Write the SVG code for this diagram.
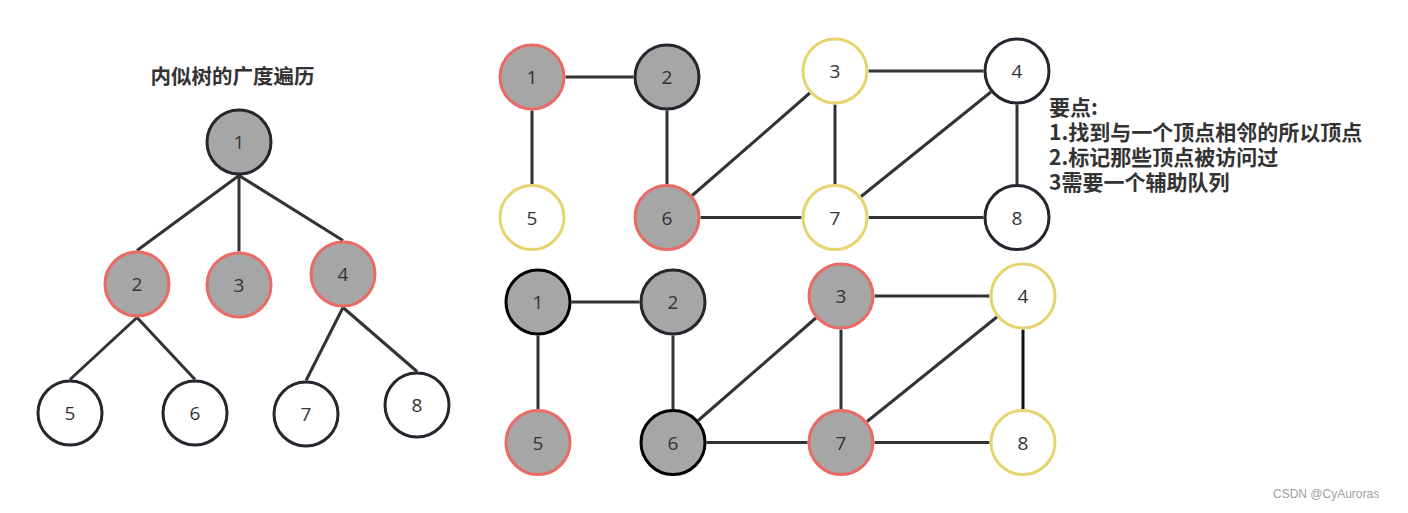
<svg xmlns="http://www.w3.org/2000/svg" width="1408" height="513" viewBox="0 0 1408 513">
  <style>
    .n { stroke-width: 3; }
    .g { fill: #a6a6a6; }
    .w { fill: #ffffff; }
    .red { stroke: #ea6b66; }
    .yel { stroke: #e6d46f; }
    .dk { stroke: #23282e; }
    .blk { stroke: #000000; }
    .lbl { font-family: "Open Sans", "Noto Sans", "DejaVu Sans", sans-serif; font-size: 19px; fill: #333333; text-anchor: middle; }
    .e { stroke: #333333; stroke-width: 3; fill: none; }
    .cjk { font-family: "Noto Sans CJK SC", "Noto Sans", sans-serif; font-weight: bold; fill: #333333; }
    .wm { font-family: "Liberation Sans", Arial, sans-serif; font-size: 12px; fill: #a0a0a0; }
  </style>
  <rect x="0" y="0" width="1408" height="513" fill="#ffffff"/>

  <!-- Tree title -->
  <text class="cjk" x="232.5" y="84" font-size="20.5" text-anchor="middle">内似树的广度遍历</text>

  <!-- Tree connectors -->
  <g id="tree-connectors">
    <line class="e" x1="239" y1="175.5" x2="137" y2="250.5"/>
    <line class="e" x1="239" y1="175.5" x2="239" y2="251.5"/>
    <line class="e" x1="239" y1="175.5" x2="343" y2="240.5"/>
    <line class="e" x1="137" y1="317.5" x2="70" y2="379.5"/>
    <line class="e" x1="137" y1="317.5" x2="195" y2="379.5"/>
    <line class="e" x1="343" y1="307.5" x2="306" y2="380.5"/>
    <line class="e" x1="343" y1="307.5" x2="417" y2="371.5"/>
  </g>

  <!-- Tree nodes -->
  <g id="t1"><circle class="n g dk" cx="239" cy="142" r="32"/><text class="lbl" x="239" y="149">1</text></g>
  <g id="t2"><circle class="n g red" cx="137" cy="284" r="32"/><text class="lbl" x="137" y="291">2</text></g>
  <g id="t3"><circle class="n g red" cx="239" cy="285" r="32"/><text class="lbl" x="239" y="292">3</text></g>
  <g id="t4"><circle class="n g red" cx="343" cy="274" r="32"/><text class="lbl" x="343" y="281">4</text></g>
  <g id="t5"><circle class="n w dk" cx="70" cy="413" r="32"/><text class="lbl" x="70" y="420">5</text></g>
  <g id="t6"><circle class="n w dk" cx="195" cy="413" r="32"/><text class="lbl" x="195" y="420">6</text></g>
  <g id="t7"><circle class="n w dk" cx="306" cy="414" r="32"/><text class="lbl" x="306" y="421">7</text></g>
  <g id="t8"><circle class="n w dk" cx="417" cy="405" r="32"/><text class="lbl" x="417" y="412">8</text></g>

  <!-- Top graph connectors -->
  <g id="graph1-connectors">
    <line class="e" x1="565.5" y1="77" x2="633.5" y2="77"/>
    <line class="e" x1="532" y1="110.5" x2="532" y2="184"/>
    <line class="e" x1="667" y1="110.5" x2="667" y2="184"/>
    <line class="e" x1="868.5" y1="71" x2="983.5" y2="71"/>
    <line class="e" x1="835" y1="104.5" x2="835" y2="184"/>
    <line class="e" x1="1017" y1="104.5" x2="1017" y2="184"/>
    <line class="e" x1="700.5" y1="217.5" x2="801.5" y2="217.5"/>
    <line class="e" x1="868.5" y1="217.5" x2="983.5" y2="217.5"/>
    <line class="e" x1="692.2" y1="195.5" x2="809.8" y2="93"/>
    <line class="e" x1="861.1" y1="196.5" x2="990.9" y2="92"/>
  </g>

  <!-- Top graph nodes -->
  <g id="a1"><circle class="n g red" cx="532" cy="77" r="32"/><text class="lbl" x="532" y="84">1</text></g>
  <g id="a2"><circle class="n g dk" cx="667" cy="77" r="32"/><text class="lbl" x="667" y="84">2</text></g>
  <g id="a3"><circle class="n w yel" cx="835" cy="71" r="32"/><text class="lbl" x="835" y="78">3</text></g>
  <g id="a4"><circle class="n w dk" cx="1017" cy="71" r="32"/><text class="lbl" x="1017" y="78">4</text></g>
  <g id="a5"><circle class="n w yel" cx="532" cy="217.5" r="32"/><text class="lbl" x="532" y="224.5">5</text></g>
  <g id="a6"><circle class="n g red" cx="667" cy="217.5" r="32"/><text class="lbl" x="667" y="224.5">6</text></g>
  <g id="a7"><circle class="n w yel" cx="835" cy="217.5" r="32"/><text class="lbl" x="835" y="224.5">7</text></g>
  <g id="a8"><circle class="n w dk" cx="1017" cy="217.5" r="32"/><text class="lbl" x="1017" y="224.5">8</text></g>

  <!-- Bottom graph connectors -->
  <g id="graph2-connectors">
    <line class="e" x1="571.5" y1="302" x2="639.5" y2="302"/>
    <line class="e" x1="538" y1="335.5" x2="538" y2="409"/>
    <line class="e" x1="673" y1="335.5" x2="673" y2="409"/>
    <line class="e" x1="874.5" y1="296" x2="989.5" y2="296"/>
    <line class="e" x1="841" y1="329.5" x2="841" y2="409"/>
    <line class="e" x1="1023" y1="329.5" x2="1023" y2="409" style="stroke:#111111"/>
    <line class="e" x1="706.5" y1="442.5" x2="807.5" y2="442.5"/>
    <line class="e" x1="874.5" y1="442.5" x2="989.5" y2="442.5"/>
    <line class="e" x1="698.2" y1="420.5" x2="815.8" y2="318"/>
    <line class="e" x1="867.1" y1="421.5" x2="996.9" y2="317"/>
  </g>

  <!-- Bottom graph nodes -->
  <g id="b1"><circle class="n g blk" cx="538" cy="302" r="32"/><text class="lbl" x="538" y="309">1</text></g>
  <g id="b2"><circle class="n g dk" cx="673" cy="302" r="32"/><text class="lbl" x="673" y="309">2</text></g>
  <g id="b3"><circle class="n g red" cx="841" cy="296" r="32"/><text class="lbl" x="841" y="303">3</text></g>
  <g id="b4"><circle class="n w yel" cx="1023" cy="296" r="32"/><text class="lbl" x="1023" y="303">4</text></g>
  <g id="b5"><circle class="n g red" cx="538" cy="442.5" r="32"/><text class="lbl" x="538" y="449.5">5</text></g>
  <g id="b6"><circle class="n g blk" cx="673" cy="442.5" r="32"/><text class="lbl" x="673" y="449.5">6</text></g>
  <g id="b7"><circle class="n g red" cx="841" cy="442.5" r="32"/><text class="lbl" x="841" y="449.5">7</text></g>
  <g id="b8"><circle class="n w yel" cx="1023" cy="442.5" r="32"/><text class="lbl" x="1023" y="449.5">8</text></g>

  <!-- Notes -->
  <g id="notes" class="cjk" font-size="21">
    <text x="1049" y="115">要点:</text>
    <text x="1049" y="140">1.找到与一个顶点相邻的所以顶点</text>
    <text x="1049" y="165">2.标记那些顶点被访问过</text>
    <text x="1049" y="190">3需要一个辅助队列</text>
  </g>

  <text class="wm" x="1273" y="498">CSDN @CyAuroras</text>
</svg>
